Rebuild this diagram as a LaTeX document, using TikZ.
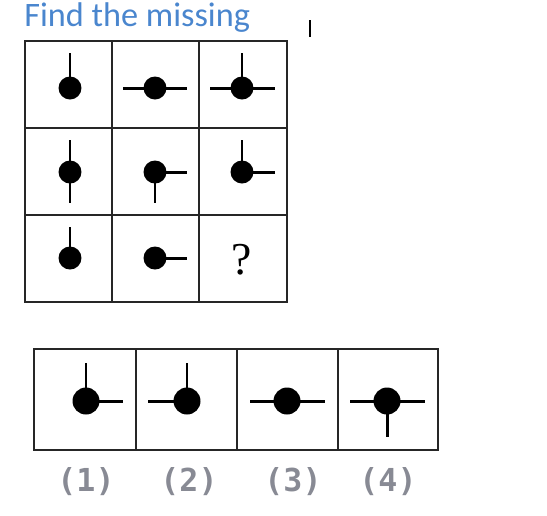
\documentclass[tikz,border=0pt]{standalone}
\usepackage{fontspec}
\newfontfamily\titlefont{Carlito}
\newfontfamily\optfont{DejaVu Sans Mono}
\newfontfamily\qfont{Liberation Serif}
\usetikzlibrary{calc}
\definecolor{titleblue}{RGB}{74,134,206}
\definecolor{optgray}{RGB}{136,138,148}
\tikzset{frame/.style={black!85, line width=1.4pt},
  stem/.style={black, line width=1.7pt},
  ball/.style={black},
  optlabel/.style={text=optgray, font=\optfont\bfseries\fontsize{18}{18}\selectfont}}

\begin{document}
\begin{tikzpicture}[x=0.02cm, y=-0.02cm]
    \useasboundingbox (0,0) rectangle (547,515);
    %Title
    \node[anchor=base west, inner sep=0, text=titleblue, font=\titlefont\fontsize{19.5}{20}\selectfont] (title) at (24,26) {Find the missing};
    \draw[line width=0.7pt] (310,20) -- (310,37);
    %Grid
    \draw[frame] (25,41) rectangle (287,302);
    \draw[frame] (112,41) -- (112,302);
    \draw[frame] (199,41) -- (199,302);
    \draw[frame] (25,128) -- (287,128);
    \draw[frame] (25,215) -- (287,215);
    %Row 1
    \draw[stem] (70,53) -- (70,88);
    \fill[ball] (70,88) circle(0.23cm);
    \draw[stem] (123,88) -- (187,88);
    \fill[ball] (155,88) circle(0.23cm);
    \draw[stem] (210,88) -- (275,88);
    \draw[stem] (242,53) -- (242,88);
    \fill[ball] (242,88) circle(0.23cm);
    %Row 2
    \draw[stem] (70,140) -- (70,203);
    \fill[ball] (70,172) circle(0.23cm);
    \draw[stem] (155,172) -- (187,172);
    \draw[stem] (155,172) -- (155,203);
    \fill[ball] (155,172) circle(0.23cm);
    \draw[stem] (242,140) -- (242,172) -- (275,172);
    \fill[ball] (242,172) circle(0.23cm);
    %Row 3
    \draw[stem] (70,227) -- (70,258);
    \fill[ball] (70,258) circle(0.23cm);
    \draw[stem] (155,258) -- (187,258);
    \fill[ball] (155,258) circle(0.23cm);
    \node[font=\qfont\fontsize{26}{26}\selectfont] (qmark) at (242,260) {?};
    %Options
    \draw[frame] (34,349) rectangle (438,450);
    \draw[frame] (136,349) -- (136,450);
    \draw[frame] (237,349) -- (237,450);
    \draw[frame] (338,349) -- (338,450);
    \draw[stem] (86,363) -- (86,401) -- (123,401);
    \fill[ball] (86,401) circle(0.27cm);
    \draw[stem] (187,363) -- (187,401) -- (148,401);
    \fill[ball] (187,401) circle(0.27cm);
    \draw[stem] (250,401) -- (325,401);
    \fill[ball] (287,401) circle(0.27cm);
    \draw[stem] (350,401) -- (425,401);
    \draw[stem] (387,401) -- (387,437);
    \fill[ball] (387,401) circle(0.27cm);
    \node[optlabel] (opt1) at (86,482) {(1)};
    \node[optlabel] (opt2) at (189,482) {(2)};
    \node[optlabel] (opt3) at (293,482) {(3)};
    \node[optlabel] (opt4) at (388,482) {(4)};
  \end{tikzpicture}
\end{document}
